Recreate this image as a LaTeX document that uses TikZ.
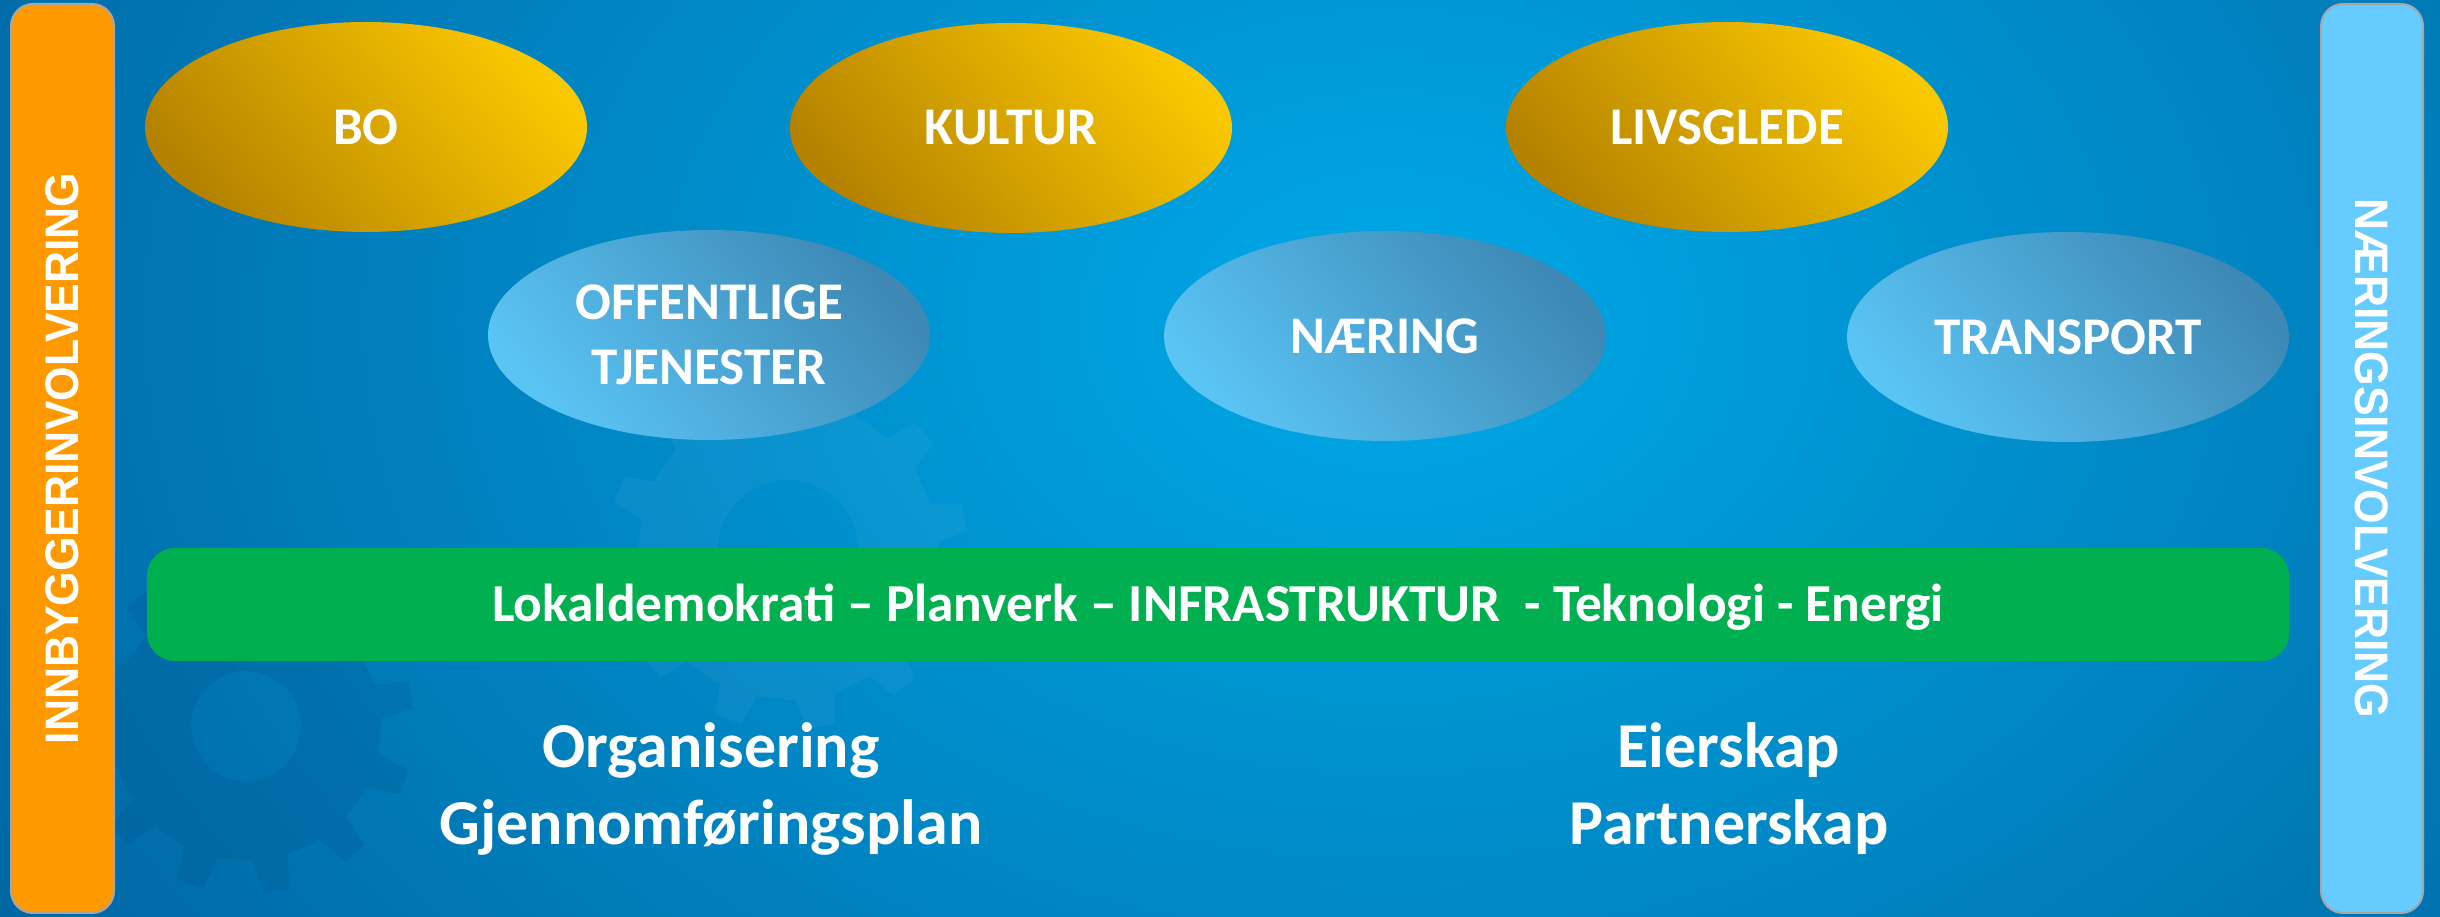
\documentclass[tikz,border=0pt]{standalone}
\usepackage{fontspec}
\setmainfont{Carlito}
\newfontfamily\barfont{Liberation Sans}[FakeStretch=0.945]
\usetikzlibrary{shapes.geometric,positioning}

\definecolor{bgglow}{HTML}{00A9E8}
\definecolor{bgdeep}{HTML}{004A85}
\definecolor{golddark}{HTML}{B58200}
\definecolor{goldlight}{HTML}{FAC800}
\definecolor{skylight}{HTML}{5AC4F4}
\definecolor{skydark}{HTML}{3D88B5}
\definecolor{barorange}{HTML}{FF9900}
\definecolor{barblue}{HTML}{66CCFF}
\definecolor{bargreen}{HTML}{00B050}
\definecolor{bargrey}{HTML}{A6A6A6}

\begin{document}
\begin{tikzpicture}[x=1pt,y=1pt]

	\tikzstyle{goal} = [ellipse, minimum width=442, minimum height=210, inner sep=0, text=white, align=center, font=\fontsize{53}{65}\selectfont\bfseries, top color=goldlight, bottom color=golddark, shading angle=-50]
	\tikzstyle{area} = [goal, top color=skydark, bottom color=skylight, shading angle=-50]
	\tikzstyle{sidebar} = [rectangle, rounded corners=22, draw=bargrey, line width=2, minimum width=909, minimum height=103, inner sep=0, text=white, font=\barfont\bfseries\fontsize{47}{50}\selectfont]
	\tikzstyle{basebar} = [rectangle, rounded corners=28, fill=bargreen, minimum width=2142, minimum height=113, inner sep=0, text height=34, text depth=0, text=white, font=\fontsize{53.4}{64}\selectfont\bfseries]
	\tikzstyle{means} = [align=center, inner sep=0, text=white, font=\fontsize{64}{77}\selectfont\bfseries]

	% background
	\useasboundingbox (0,0) rectangle (2440,917);
	\begin{scope}
		\clip (0,0) rectangle (2440,917);
		\fill[inner color=bgglow, outer color=bgdeep] (1390,597) ellipse [x radius=2300, y radius=1700];
		% faint gears
		\begin{scope}[shift={(246,191)}]
			\fill[bgdeep!80!black, opacity=0.12, even odd rule] (0:135) \foreach \a in {0,30,...,330}{ -- (\a+3:135) -- (\a+6:168) -- (\a+15:168) -- (\a+18:135) -- (\a+30:135)} -- cycle (0,0) circle (55);
		\end{scope}
		\begin{scope}[shift={(788,367)}]
			\fill[white, opacity=0.04, even odd rule] (0:150) \foreach \a in {0,30,...,330}{ -- (\a+3:150) -- (\a+6:180) -- (\a+15:180) -- (\a+18:150) -- (\a+30:150)} -- cycle (0,0) circle (70);
		\end{scope}
	\end{scope}

	% side bars
	\node (citizens) [sidebar, fill=barorange, rotate=90] at (62.5,458.5) {INNBYGGERINVOLVERING};
	\node (business) [sidebar, fill=barblue, minimum height=102, rotate=-90] at (2372,458.5) {NÆRINGSINVOLVERING};

	% goals
	\node (bo) [goal] at (366,790) {BO};
	\node (kultur) [goal] at (1011,789) {KULTUR};
	\node (livsglede) [goal] at (1727,790) {LIVSGLEDE};

	% areas
	\node (offentlige) [area] at (709,582) {OFFENTLIGE\\TJENESTER};
	\node (naering) [area] at (1385,581) {NÆRING};
	\node (transport) [area] at (2068,580) {TRANSPORT};

	% foundation
	\node (grunnmur) [basebar] at (1218,312.5) {Lokaldemokrati – Planverk – INFRASTRUKTUR~ - Teknologi - Energi};

	\node (organisering) [means, anchor=base] at (711,72) {Organisering\\Gjennomføringsplan};
	\node (eierskap) [means, anchor=base] at (1729,72) {Eierskap\\Partnerskap};

\end{tikzpicture}
\end{document}
